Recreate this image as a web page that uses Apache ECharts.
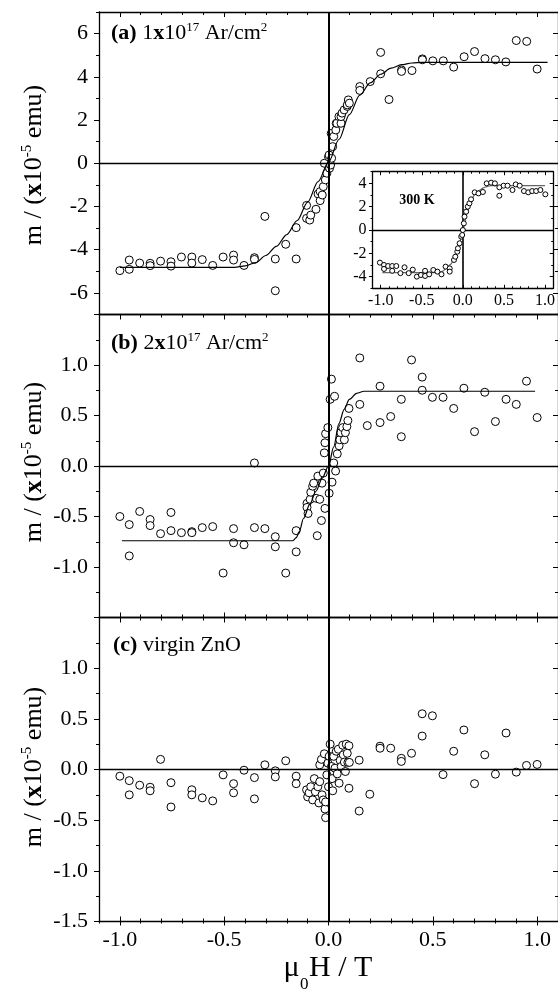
<!DOCTYPE html>
<html><head><meta charset="utf-8">
<script src="https://cdn.jsdelivr.net/npm/echarts@6/dist/echarts.min.js"></script>
<style>html,body{margin:0;padding:0;background:#fff}#c{width:558px;height:992px}</style>
</head><body><div id="c"></div>
<script>
// ---------- data ----------
const xRange = [-1.1, 1.1];
const xMajor = [-1.0, -0.5, 0.0, 0.5, 1.0];
const xMinor = [-1.1, -0.9, -0.8, -0.7, -0.6, -0.4, -0.3, -0.2, -0.1, 0.1, 0.2, 0.3, 0.4, 0.6, 0.7, 0.8, 0.9, 1.1];

const aRange = [-7, 7];
const aMajor = [-6, -4, -2, 0, 2, 4, 6];
const aMinor = [-7, -5, -3, -1, 1, 3, 5, 7];
const aLabels = [-6, -4, -2, 0, 2, 4, 6];

const bRange = [-1.5, 1.5];
const bMajor = [-1.5, -1.0, -0.5, 0.0, 0.5, 1.0, 1.5];
const bMinor = [-1.25, -0.75, -0.25, 0.25, 0.75, 1.25];
const bLabels = [-1.0, -0.5, 0.0, 0.5, 1.0];

const cRange = [-1.5, 1.5];
const cMajor = [-1.5, -1.0, -0.5, 0.0, 0.5, 1.0, 1.5];
const cMinor = [-1.25, -0.75, -0.25, 0.25, 0.75, 1.25];
const cLabels = [-1.5, -1.0, -0.5, 0.0, 0.5, 1.0];

const insetYRange = [-5, 5];
const insetYMajor = [-4, -2, 0, 2, 4];
const insetYMinor = [-5, -3, -1, 1, 3, 5];

const panelAPoints = [[-1.0,-4.97],[-0.955,-4.48],[-0.955,-4.91],[-0.905,-4.62],[-0.855,-4.63],[-0.855,-4.74],[-0.805,-4.53],[-0.755,-4.56],[-0.755,-4.76],[-0.705,-4.34],[-0.655,-4.34],[-0.655,-4.62],[-0.605,-4.46],[-0.555,-4.73],[-0.505,-4.34],[-0.455,-4.25],[-0.455,-4.48],[-0.405,-4.73],[-0.355,-4.37],[-0.355,-4.45],[-0.305,-2.46],[-0.255,-4.43],[-0.255,-5.90],[-0.205,-3.75],[-0.155,-2.98],[-0.155,-4.43],[-0.105,-1.95],[-0.105,-2.55],[-0.09,-2.63],[-0.085,-2.4],[-0.06,-2.13],[-0.05,-1.42],[-0.04,-1.73],[-0.04,-1.31],[-0.03,-1.47],[-0.025,-1.08],[-0.015,-0.77],[-0.008,-0.46],[-0.02,0.0],[0.005,-0.23],[0.0,0.3],[0.003,0.38],[0.01,-0.08],[0.013,1.38],[0.015,0.23],[0.02,0.77],[0.025,1.24],[0.035,1.54],[0.037,1.85],[0.04,1.85],[0.05,2.16],[0.06,1.85],[0.06,2.16],[0.065,2.32],[0.075,2.47],[0.09,2.63],[0.09,2.7],[0.095,2.93],[0.10,2.78],[0.15,3.55],[0.15,3.37],[0.20,3.78],[0.25,5.13],[0.25,4.14],[0.29,2.95],[0.35,4.32],[0.35,4.25],[0.40,4.29],[0.45,4.83],[0.45,4.79],[0.50,4.74],[0.55,4.74],[0.60,4.45],[0.65,4.93],[0.70,5.17],[0.75,4.84],[0.80,4.79],[0.85,4.69],[0.90,5.68],[0.95,5.64],[1.0,4.36]];
const panelAFit = [[-1.0,-4.82],[-0.45,-4.82],[-0.40,-4.75],[-0.35,-4.6],[-0.30,-4.27],[-0.25,-3.85],[-0.20,-3.3],[-0.15,-2.65],[-0.10,-1.8],[-0.05,-0.85],[0.0,0.05],[0.05,1.1],[0.10,2.25],[0.15,3.15],[0.20,3.72],[0.25,4.12],[0.30,4.4],[0.35,4.56],[0.40,4.64],[0.45,4.67],[1.05,4.67]];

const panelBPoints = [[-1.0,-0.50],[-0.955,-0.58],[-0.955,-0.89],[-0.905,-0.45],[-0.855,-0.53],[-0.855,-0.59],[-0.805,-0.67],[-0.755,-0.46],[-0.755,-0.64],[-0.705,-0.66],[-0.655,-0.65],[-0.655,-0.66],[-0.605,-0.61],[-0.555,-0.60],[-0.505,-1.06],[-0.455,-0.62],[-0.455,-0.76],[-0.405,-0.78],[-0.355,0.03],[-0.355,-0.61],[-0.305,-0.62],[-0.255,-0.70],[-0.255,-0.80],[-0.205,-1.06],[-0.155,-0.64],[-0.155,-0.85],[-0.103,-0.37],[-0.103,-0.41],[-0.098,-0.47],[-0.088,-0.33],[-0.085,-0.26],[-0.076,-0.20],[-0.071,-0.17],[-0.059,-0.32],[-0.054,-0.69],[-0.051,-0.10],[-0.042,-0.33],[-0.034,-0.54],[-0.031,-0.17],[-0.025,-0.07],[-0.017,-0.42],[-0.02,0.13],[-0.017,0.23],[-0.014,0.32],[-0.003,0.38],[0.003,-0.27],[0.008,0.66],[0.014,0.86],[0.017,-0.16],[0.025,0.03],[0.029,0.69],[0.034,-0.05],[0.042,0.12],[0.051,0.20],[0.054,0.26],[0.059,0.33],[0.068,0.38],[0.076,0.26],[0.081,0.33],[0.088,0.39],[0.093,0.45],[0.098,0.57],[0.15,0.61],[0.15,1.07],[0.186,0.40],[0.247,0.79],[0.247,0.43],[0.298,0.49],[0.349,0.66],[0.349,0.29],[0.398,1.05],[0.449,0.88],[0.449,0.75],[0.498,0.68],[0.549,0.68],[0.60,0.57],[0.649,0.77],[0.70,0.34],[0.749,0.73],[0.80,0.44],[0.851,0.66],[0.90,0.61],[0.949,0.84],[1.0,0.48]];
const panelBFit = [[-0.99,-0.74],[-0.17,-0.74],[-0.155,-0.71],[-0.14,-0.65],[-0.12,-0.52],[-0.09,-0.38],[-0.06,-0.25],[-0.03,-0.12],[0.0,0.0],[0.025,0.19],[0.05,0.42],[0.075,0.56],[0.10,0.66],[0.135,0.72],[0.17,0.74],[0.99,0.74]];

const panelCPoints = [[-1.0,-0.066],[-0.955,-0.11],[-0.955,-0.25],[-0.905,-0.155],[-0.855,-0.175],[-0.855,-0.21],[-0.805,0.10],[-0.755,-0.13],[-0.755,-0.37],[-0.655,-0.20],[-0.655,-0.25],[-0.605,-0.28],[-0.555,-0.31],[-0.505,-0.053],[-0.455,-0.14],[-0.455,-0.23],[-0.405,-0.007],[-0.355,-0.08],[-0.355,-0.29],[-0.305,0.046],[-0.255,-0.013],[-0.255,-0.073],[-0.205,0.086],[-0.155,-0.066],[-0.155,-0.14],[-0.105,-0.20],[-0.10,-0.27],[-0.093,-0.23],[-0.085,-0.17],[-0.076,-0.30],[-0.068,-0.09],[-0.063,-0.22],[-0.051,-0.17],[-0.046,-0.33],[-0.042,-0.12],[-0.042,0.046],[-0.034,0.10],[-0.031,-0.25],[-0.025,-0.30],[-0.02,0.155],[-0.017,-0.39],[-0.014,-0.475],[-0.014,-0.32],[-0.008,-0.053],[-0.003,0.063],[0.0,-0.17],[0.003,0.13],[0.008,0.25],[0.014,0.03],[0.017,-0.09],[0.02,-0.21],[0.025,0.13],[0.031,0.013],[0.037,0.18],[0.042,-0.043],[0.047,0.20],[0.051,-0.135],[0.056,0.09],[0.061,0.03],[0.068,0.24],[0.071,0.145],[0.076,0.073],[0.081,-0.02],[0.085,0.25],[0.09,0.16],[0.093,0.07],[0.098,0.235],[0.098,-0.185],[0.10,0.07],[0.147,0.092],[0.147,-0.41],[0.198,-0.244],[0.247,0.23],[0.247,0.21],[0.298,0.21],[0.349,0.11],[0.349,0.08],[0.398,0.16],[0.449,0.55],[0.449,0.33],[0.498,0.53],[0.549,-0.05],[0.60,0.18],[0.649,0.39],[0.70,-0.14],[0.749,0.145],[0.80,-0.046],[0.851,0.36],[0.90,-0.026],[0.949,0.04],[1.0,0.05]];

const insetPoints = [[-1.01,-2.8],[-0.96,-3.0],[-0.96,-3.34],[-0.91,-3.09],[-0.86,-3.09],[-0.86,-3.5],[-0.81,-3.09],[-0.76,-3.7],[-0.71,-3.2],[-0.66,-3.7],[-0.61,-3.4],[-0.56,-4.0],[-0.51,-3.86],[-0.46,-3.5],[-0.46,-3.94],[-0.41,-3.8],[-0.36,-3.43],[-0.31,-3.57],[-0.26,-3.8],[-0.21,-3.14],[-0.16,-3.29],[-0.16,-3.57],[-0.108,-2.57],[-0.092,-2.29],[-0.068,-1.86],[-0.06,-1.57],[-0.04,-1.14],[-0.02,-0.57],[-0.008,-0.43],[0.0,0.0],[0.012,0.57],[0.02,1.14],[0.04,1.57],[0.06,2.0],[0.08,2.29],[0.10,2.63],[0.144,3.23],[0.19,3.14],[0.244,3.26],[0.29,4.0],[0.344,4.06],[0.39,4.0],[0.444,3.66],[0.444,2.94],[0.496,3.8],[0.544,3.8],[0.604,3.43],[0.644,3.91],[0.692,3.8],[0.744,3.34],[0.796,3.23],[0.844,3.34],[0.892,3.34],[0.944,3.43],[1.004,3.06]];
const insetFit = [[-0.98,-3.66],[-0.30,-3.66],[-0.25,-3.55],[-0.20,-3.3],[-0.15,-2.95],[-0.10,-2.4],[-0.05,-1.4],[0.0,0.0],[0.05,1.4],[0.10,2.55],[0.15,3.1],[0.20,3.4],[0.25,3.62],[0.30,3.75],[0.35,3.8],[1.0,3.8]];

// ---------- layout ----------
const F = '"Liberation Serif","Times New Roman",serif';
const grids = [
  {left: 99, top: 12, width: 463, height: 302.5},
  {left: 99, top: 314.5, width: 463, height: 303},
  {left: 99, top: 617.5, width: 463, height: 304},
  {left: 372.5, top: 171.7, width: 185, height: 116.6, show: true, backgroundColor: '#fff', borderWidth: 0, z: 5}
];
const xAxes = [], yAxes = [];
function base(gi, pos, range, ticks, len, inside, line) {
  return {type: 'value', gridIndex: gi, position: pos, min: range[0], max: range[1],
    axisLine: {show: line, onZero: false, lineStyle: {color: '#000', width: 1.3}},
    axisTick: {show: !!ticks, inside: inside, length: len, customValues: ticks || undefined, lineStyle: {color: '#000', width: 1}},
    axisLabel: {show: false}, splitLine: {show: false}, minorTick: {show: false}, z: gi === 3 ? 6 : 0};
}
function addX(o) { xAxes.push(o); return xAxes.length - 1; }
function addY(o) { yAxes.push(o); return yAxes.length - 1; }
function lab(ax, vals, fmt, size, margin) {
  ax.axisLabel = {show: true, customValues: vals, formatter: fmt, fontFamily: F, fontSize: size, color: '#000', margin: margin};
  return ax;
}
const f1 = v => (Math.abs(v) < 1e-9 ? 0 : v).toFixed(1);
const f0 = v => String(Math.round(v));

const panels = [
  {range: aRange, major: aMajor, minor: aMinor, labels: aLabels, fmt: f0, bottom: 'none'},
  {range: bRange, major: bMajor, minor: bMinor, labels: bLabels, fmt: f1, bottom: 'inside'},
  {range: cRange, major: cMajor, minor: cMinor, labels: cLabels, fmt: f1, bottom: 'cross'}
];
const idx = [];
panels.forEach((p, gi) => {
  let bx;
  if (p.bottom === 'none') bx = addX(base(gi, 'bottom', xRange, null, 0, true, true));
  else bx = addX(base(gi, 'bottom', xRange, xMajor, 5, true, true));
  if (p.bottom !== 'none') addX(base(gi, 'bottom', xRange, xMinor, 3, true, false));
  if (p.bottom === 'cross') {
    addX(lab(base(gi, 'bottom', xRange, xMajor, 4, false, false), xMajor, f1, 22, 8));
    addX(base(gi, 'bottom', xRange, xMinor, 2, false, false));
  }
  addX(base(gi, 'top', xRange, xMajor, 5, true, true));
  addX(base(gi, 'top', xRange, xMinor, 3, true, false));
  const ly = addY(lab(base(gi, 'left', p.range, p.major, 5, false, true), p.labels, p.fmt, 22, 11));
  addY(base(gi, 'left', p.range, p.minor, 3, false, false));
  addY(base(gi, 'right', p.range, p.major, 5, true, true));
  addY(base(gi, 'right', p.range, p.minor, 3, true, false));
  idx.push([bx, ly]);
});
// inset
const ix = addX(lab(base(3, 'bottom', xRange, xMajor, 3.5, true, true), xMajor, f1, 16, 4));
addX(base(3, 'bottom', xRange, xMinor, 2, true, false));
addX(base(3, 'top', xRange, xMajor, 3.5, true, true));
addX(base(3, 'top', xRange, xMinor, 2, true, false));
const iy = addY(lab(base(3, 'left', insetYRange, insetYMajor, 3.5, false, true), insetYMajor, f0, 16, 6));
addY(base(3, 'left', insetYRange, insetYMinor, 2, false, false));
addY(base(3, 'right', insetYRange, insetYMajor, 3.5, true, true));
addY(base(3, 'right', insetYRange, insetYMinor, 2, true, false));

function zeroLines(w) {
  return {silent: true, symbol: 'none', label: {show: false}, animation: false,
    data: [{yAxis: 0, lineStyle: {color: '#000', width: 1.3, type: 'solid'}},
           {xAxis: 0, lineStyle: {color: '#000', width: w, type: 'solid'}}]};
}
const scat = (data, xi, yi, size, z) => ({type: 'scatter', xAxisIndex: xi, yAxisIndex: yi, data: data,
  symbol: 'circle', symbolSize: size, itemStyle: {color: '#fff', borderColor: '#000', borderWidth: 1, opacity: 1}, z: z});
const fit = (data, xi, yi, color, w, z) => ({type: 'line', xAxisIndex: xi, yAxisIndex: yi, data: data, showSymbol: false,
  smooth: 0.3, smoothMonotone: 'x', lineStyle: {color: color, width: w}, z: z});

const series = [];
const allPts = [panelAPoints, panelBPoints, panelCPoints];
const allFit = [panelAFit, panelBFit, null];
idx.forEach(([xi, yi], k) => {
  series.push({type: 'line', xAxisIndex: xi, yAxisIndex: yi, data: [], markLine: zeroLines(2), z: 1});
  series.push(scat(allPts[k], xi, yi, 8, 3));
  if (allFit[k]) series.push(fit(allFit[k], xi, yi, '#000', 1.2, 4));
});
series.push({type: 'line', xAxisIndex: ix, yAxisIndex: iy, data: [], markLine: zeroLines(1.6), z: 7});
series.push(fit(insetFit, ix, iy, '#666', 1.2, 8));
series.push(scat(insetPoints, ix, iy, 5, 9));

const sup = (s) => ({fontFamily: F, fontSize: s, lineHeight: 5, verticalAlign: 'top'});
const graphic = [
  {type: 'text', x: 111, y: 33, z: 20, style: {text: '{b|(a)}{n| 1}{bx|x}{n|10}{s|17}{n| Ar/cm}{s|2}', verticalAlign: 'middle', align: 'left',
    rich: {b: {fontFamily: F, fontSize: 22, fontWeight: 'bold', lineHeight: 24}, bx: {fontFamily: F, fontSize: 22, fontWeight: 'bold', lineHeight: 24}, n: {fontFamily: F, fontSize: 22, lineHeight: 24}, s: sup(13)}}},
  {type: 'text', x: 111, y: 343, z: 20, style: {text: '{b|(b)}{n| 2}{bx|x}{n|10}{s|17}{n| Ar/cm}{s|2}', verticalAlign: 'middle', align: 'left',
    rich: {b: {fontFamily: F, fontSize: 22, fontWeight: 'bold', lineHeight: 24}, bx: {fontFamily: F, fontSize: 22, fontWeight: 'bold', lineHeight: 24}, n: {fontFamily: F, fontSize: 22, lineHeight: 24}, s: sup(13)}}},
  {type: 'text', x: 113, y: 645, z: 20, style: {text: '{b|(c)}{n| virgin ZnO}', verticalAlign: 'middle', align: 'left',
    rich: {b: {fontFamily: F, fontSize: 22, fontWeight: 'bold', lineHeight: 24}, n: {fontFamily: F, fontSize: 22, lineHeight: 24}}}},
  {type: 'text', x: 417, y: 200, z: 20, style: {text: '300 K', fontFamily: F, fontSize: 14, fontWeight: 'bold', fill: '#000', align: 'center', verticalAlign: 'middle'}},
  {type: 'text', x: 299.5, y: 968, z: 20, style: {text: '\u03bc', fontFamily: F, fontSize: 30, fill: '#000', align: 'right', verticalAlign: 'middle'}},
  {type: 'text', x: 300, y: 985, z: 20, style: {text: '0', fontFamily: F, fontSize: 17, fill: '#000', align: 'left', verticalAlign: 'middle'}},
  {type: 'text', x: 309, y: 968, z: 20, style: {text: 'H / T', fontFamily: F, fontSize: 30, fill: '#000', align: 'left', verticalAlign: 'middle'}}
];
[165, 462, 767].forEach(cy => {
  graphic.push({type: 'text', x: 34, y: cy, rotation: Math.PI / 2, z: 20, style: {text: '{n|m / (}{bx|x}{n|10}{s|-5}{n| emu)}', align: 'center', verticalAlign: 'middle',
    rich: {n: {fontFamily: F, fontSize: 26, lineHeight: 28}, bx: {fontFamily: F, fontSize: 26, fontWeight: 'bold', lineHeight: 28}, s: sup(15)}}});
});

const chart = echarts.init(document.getElementById('c'), null, {renderer: 'canvas'});
chart.setOption({animation: false, backgroundColor: '#fff', grid: grids, xAxis: xAxes, yAxis: yAxes, series: series, graphic: graphic});
</script></body></html>
